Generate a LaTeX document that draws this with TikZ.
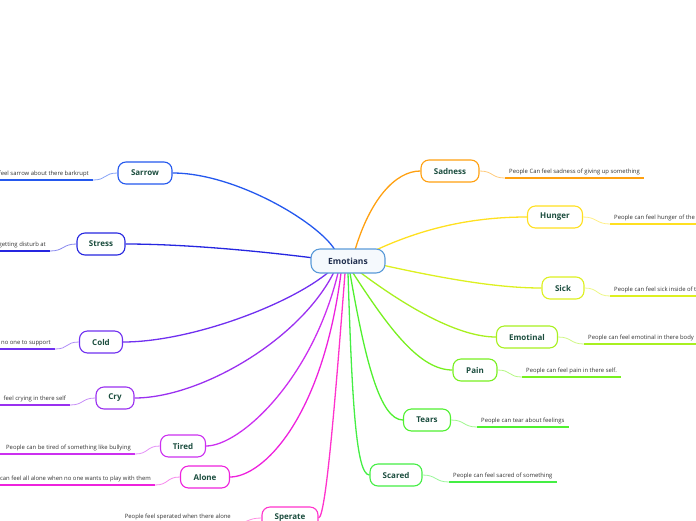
\documentclass[tikz,border=0pt]{standalone}
\usepackage{fontspec}
\setmainfont{Open Sans}
\usetikzlibrary{backgrounds}
\definecolor{nodegreen}{HTML}{1B4D3E}
\definecolor{navy}{HTML}{1F2D4D}
\definecolor{leafgray}{HTML}{333333}
\definecolor{cEmo}{HTML}{5A9AD8}
\definecolor{cSar}{HTML}{2458EE}
\definecolor{cStr}{HTML}{2626E0}
\definecolor{cCold}{HTML}{7030F0}
\definecolor{cCry}{HTML}{9A30F0}
\definecolor{cTir}{HTML}{CC30F0}
\definecolor{cAlo}{HTML}{EE22DD}
\definecolor{cSpe}{HTML}{FF33CC}
\definecolor{cSca}{HTML}{44EE44}
\definecolor{cTea}{HTML}{50F030}
\definecolor{cPai}{HTML}{78F020}
\definecolor{cEmt}{HTML}{A8F020}
\definecolor{cSic}{HTML}{DDF020}
\definecolor{cHun}{HTML}{FFE020}
\definecolor{cSad}{HTML}{FFA010}
\tikzset{
  topic/.style={draw=#1, line width=1.1pt, rounded corners=8pt, fill=white,
    minimum height=22pt, inner xsep=2pt, inner ysep=0pt,
    font=\fontsize{8}{9}\selectfont\bfseries, text=nodegreen},
  mainline/.style={draw=#1, line width=1.3pt},
  thinline/.style={draw=#1!55, line width=0.8pt},
  uline/.style={draw=#1, line width=1.8pt},
  leaf/.style={font=\fontsize{5.9}{7}\selectfont, text=leafgray, inner xsep=4pt, inner ysep=3pt}
}
\begin{document}
\begin{tikzpicture}[x=1pt,y=-1pt]
\useasboundingbox (0,0) rectangle (696,520);
\clip (0,0) rectangle (696,520);
% central
\node[draw=cEmo, line width=1.1pt, rounded corners=9pt, fill=cEmo!6, minimum width=74pt, minimum height=24pt,
  inner sep=0pt, font=\fontsize{8.5}{10}\selectfont\bfseries, text=navy] (emo) at (348,261) {Emotians};
% topics
\node[topic=cSad, minimum width=58pt] (sad) at (450,171) {Sadness};
\node[topic=cHun, minimum width=55pt] (hun) at (555,217) {Hunger};
\node[topic=cSic, minimum width=42pt] (sic) at (563,288) {Sick};
\node[topic=cEmt, minimum width=61pt] (emt) at (527,337) {Emotinal};
\node[topic=cPai, minimum width=44pt] (pai) at (475,370) {Pain};
\node[topic=cTea, minimum width=47pt] (tea) at (427,420) {Tears};
\node[topic=cSca, minimum width=52pt] (sca) at (396,475) {Scared};
\node[topic=cSpe, minimum width=56pt] (spe) at (290,518) {Sperate};
\node[topic=cAlo, minimum width=49pt] (alo) at (205,477) {Alone};
\node[topic=cTir, minimum width=45pt] (tir) at (183,446) {Tired};
\node[topic=cCry, minimum width=38pt] (cry) at (115,398) {Cry};
\node[topic=cCold, minimum width=43pt] (col) at (101,342) {Cold};
\node[topic=cStr, minimum width=48pt] (str) at (101,244) {Stress};
\node[topic=cSar, minimum width=54pt] (sar) at (145,173) {Sarrow};
% leaves right
\node[leaf, anchor=south west] (lsad) at (505,178) {People Can feel sadness of giving up something};
\node[leaf, anchor=south west] (lhun) at (610,224) {People can feel hunger of the};
\node[leaf, anchor=south west] (lsic) at (610,296) {People can feel sick inside of t};
\node[leaf, anchor=south west] (lemt) at (584,344) {People can feel emotinal in there body};
\node[leaf, anchor=south west] (lpai) at (522,377) {People can feel pain in there self.};
\node[leaf, anchor=south west] (ltea) at (477,427) {People can tear about feelings};
\node[leaf, anchor=south west] (lsca) at (449,482) {People can feel sacred of something};
% leaves left
\node[leaf, anchor=south east] (lsar) at (93,180) {feel sarrow about there barkrupt};
\node[leaf, anchor=south east] (lstr) at (50,251) {getting disturb at};
\node[leaf, anchor=south east] (lcol) at (55,349) {no one to support};
\node[leaf, anchor=south east] (lcry) at (70,405) {feel crying in there self};
\node[leaf, anchor=south east] (ltir) at (135,454) {People can be tired of something like bullying};
\node[leaf, anchor=south east] (lalo) at (155,485) {can feel all alone when no one wants to play with them};
\node[leaf, anchor=south east] (lspe) at (235,523) {People feel sperated when there alone};
% underlines
\draw[uline=cSad] (lsad.south west) -- (lsad.south east);
\draw[uline=cHun] (lhun.south west) -- ++(120,0);
\draw[uline=cSic] (lsic.south west) -- ++(120,0);
\draw[uline=cEmt] (lemt.south west) -- ++(130,0);
\draw[uline=cPai] (lpai.south west) -- (lpai.south east);
\draw[uline=cTea] (ltea.south west) -- (ltea.south east);
\draw[uline=cSca] (lsca.south west) -- (lsca.south east);
\draw[uline=cSar] (lsar.south east) -- ++(-120,0);
\draw[uline=cStr] (lstr.south east) -- ++(-120,0);
\draw[uline=cCold] (lcol.south east) -- ++(-120,0);
\draw[uline=cCry] (lcry.south east) -- ++(-120,0);
\draw[uline=cTir] (ltir.south east) -- ++(-160,0);
\draw[uline=cAlo] (lalo.south east) -- ++(-180,0);
\draw[uline=cSpe] (lspe.south east) -- (lspe.south west);
% thin connectors topic -> leaf
\draw[thinline=cSad] (sad.east) .. controls +(14,0) and +(-14,0) .. (lsad.south west);
\draw[thinline=cHun] (hun.east) .. controls +(14,0) and +(-14,0) .. (lhun.south west);
\draw[thinline=cSic] (sic.east) .. controls +(14,0) and +(-14,0) .. (lsic.south west);
\draw[thinline=cEmt] (emt.east) .. controls +(14,0) and +(-14,0) .. (lemt.south west);
\draw[thinline=cPai] (pai.east) .. controls +(14,0) and +(-14,0) .. (lpai.south west);
\draw[thinline=cTea] (tea.east) .. controls +(14,0) and +(-14,0) .. (ltea.south west);
\draw[thinline=cSca] (sca.east) .. controls +(14,0) and +(-14,0) .. (lsca.south west);
\draw[thinline=cSar] (sar.west) .. controls +(-14,0) and +(14,0) .. (lsar.south east);
\draw[thinline=cStr] (str.west) .. controls +(-14,0) and +(14,0) .. (lstr.south east);
\draw[thinline=cCold] (col.west) .. controls +(-14,0) and +(14,0) .. (lcol.south east);
\draw[thinline=cCry] (cry.west) .. controls +(-14,0) and +(14,0) .. (lcry.south east);
\draw[thinline=cTir] (tir.west) .. controls +(-14,0) and +(14,0) .. (ltir.south east);
\draw[thinline=cAlo] (alo.west) .. controls +(-14,0) and +(14,0) .. (lalo.south east);
\draw[thinline=cSpe] (spe.west) .. controls +(-14,0) and +(14,0) .. (lspe.south east);
% main connectors
\begin{scope}[on background layer]
\coordinate (sSar) at (335,250);
\coordinate (sStr) at (314,258);
\coordinate (sCol) at (330,271);
\coordinate (sCry) at (334,272);
\coordinate (sTir) at (338,273);
\coordinate (sAlo) at (341,273);
\coordinate (sSpe) at (345,273);
\coordinate (sSca) at (348,273);
\coordinate (sTea) at (350,273);
\coordinate (sPai) at (353,273);
\coordinate (sEmt) at (357,270);
\coordinate (sSic) at (382,265);
\coordinate (sHun) at (376,250);
\coordinate (sSad) at (355,250);
\draw[mainline=cSar] (sSar) .. controls (318,222) and (235,173) .. (sar.east);
\draw[mainline=cStr] (sStr) .. controls (250,250) and (180,244) .. (str.east);
\draw[mainline=cCold] (sCol) .. controls (290,305) and (190,342) .. (col.east);
\draw[mainline=cCry] (sCry) .. controls (300,340) and (200,398) .. (cry.east);
\draw[mainline=cTir] (sTir) .. controls (312,380) and (240,446) .. (tir.east);
\draw[mainline=cAlo] (sAlo) .. controls (322,420) and (262,477) .. (alo.east);
\draw[mainline=cSpe] (sSpe) .. controls (336,390) and (326,518) .. (spe.east);
\draw[mainline=cSca] (sSca) .. controls (352,400) and (356,475) .. (sca.west);
\draw[mainline=cTea] (sTea) .. controls (365,360) and (380,420) .. (tea.west);
\draw[mainline=cPai] (sPai) .. controls (390,330) and (420,370) .. (pai.west);
\draw[mainline=cEmt] (sEmt) .. controls (410,310) and (460,337) .. (emt.west);
\draw[mainline=cSic] (sSic) .. controls (450,280) and (500,288) .. (sic.west);
\draw[mainline=cHun] (sHun) .. controls (430,225) and (480,217) .. (hun.west);
\draw[mainline=cSad] (sSad) .. controls (370,200) and (395,171) .. (sad.west);
\end{scope}
\end{tikzpicture}
\end{document}
